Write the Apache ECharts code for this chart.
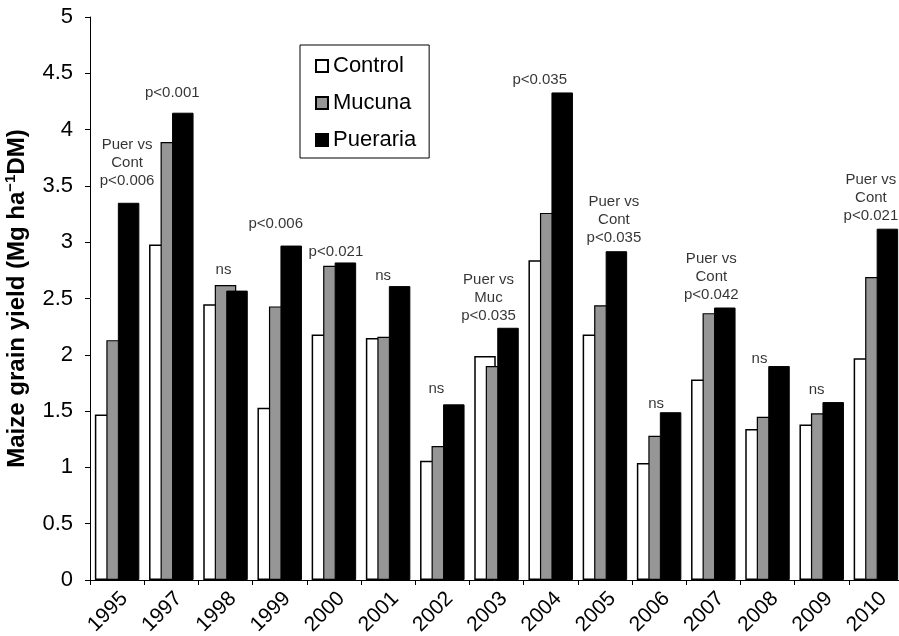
<!DOCTYPE html>
<html>
<head>
<meta charset="utf-8">
<title>Maize grain yield</title>
<script src="https://cdn.jsdelivr.net/npm/echarts@6/dist/echarts.min.js"></script>
<style>
  html, body { margin: 0; padding: 0; background: #fff; }
  #chart { width: 899px; height: 636px; }
</style>
</head>
<body>
<div id="chart"></div>
<script>
// Harvest years
const years = ['1995', '1997', '1998', '1999', '2000', '2001', '2002', '2003',
               '2004', '2005', '2006', '2007', '2008', '2009', '2010'];

// Maize grain yield (Mg ha-1 DM) per cover treatment
const control  = [1.47, 2.98, 2.45, 1.53, 2.18, 2.15, 1.06, 1.99, 2.84, 2.18, 1.04, 1.78, 1.34, 1.38, 1.97];
const mucuna   = [2.13, 3.89, 2.62, 2.43, 2.79, 2.16, 1.19, 1.90, 3.26, 2.44, 1.28, 2.37, 1.45, 1.48, 2.69];
const pueraria = [3.35, 4.15, 2.57, 2.97, 2.82, 2.61, 1.56, 2.24, 4.33, 2.92, 1.49, 2.42, 1.90, 1.58, 3.12];

// Significance notes per year
const notes = [
  'Puer vs\nCont\np<0.006', 'p<0.001', 'ns', 'p<0.006', 'p<0.021', 'ns', 'ns',
  'Puer vs\nMuc\np<0.035', 'p<0.035', 'Puer vs\nCont\np<0.035', 'ns',
  'Puer vs\nCont\np<0.042', 'ns', 'ns', 'Puer vs\nCont\np<0.021'
];

// Placement of each note: height (axis units) of the text's bottom edge, and a sideways nudge in px
const noteBase  = [3.46, 4.24, 2.67, 3.08, 2.83, 2.62, 1.61, 2.26, 4.36, 2.95, 1.48, 2.45, 1.88, 1.60, 3.15];
const noteShift = [10, 1, -2, -4, 2, -5, -6, -8, -11, 9, -3, -2, -8, -5, -5];

const FONT = 'Arial, "Liberation Sans", Helvetica, sans-serif';

const chart = echarts.init(document.getElementById('chart'), null, { renderer: 'canvas' });

const barCommon = {
  type: 'bar',
  barWidth: 21.5,
  barGap: '-46.5%',
  silent: true
};

chart.setOption({
  animation: false,
  backgroundColor: '#fff',
  textStyle: { fontFamily: FONT },
  grid: { left: 90, top: 17, width: 813, height: 563, containLabel: false, outerBoundsMode: 'none' },
  legend: {
    data: ['Control', 'Mucuna', 'Pueraria'],
    orient: 'vertical',
    left: 300,
    top: 45,
    padding: [10, 13, 7, 15],
    itemGap: 15,
    itemWidth: 12,
    itemHeight: 12,
    icon: 'rect',
    borderColor: '#000',
    borderWidth: 1,
    textStyle: { fontSize: 22, lineHeight: 22, color: '#000', fontFamily: FONT }
  },
  xAxis: {
    type: 'category',
    data: years,
    axisLine: { lineStyle: { color: '#000', width: 1 } },
    axisTick: { show: true, alignWithLabel: false, length: 5, lineStyle: { color: '#000' } },
    axisLabel: { rotate: 45, interval: 0, fontSize: 21, color: '#000', margin: 8, verticalAlign: 'top', fontFamily: FONT },
    splitLine: { show: false }
  },
  yAxis: {
    type: 'value',
    min: 0,
    max: 5,
    interval: 0.5,
    name: 'Maize grain yield (Mg ha{s|−1}DM)',
    nameLocation: 'middle',
    nameGap: 56,
    nameTextStyle: {
      fontSize: 24,
      fontWeight: 'bold',
      color: '#000',
      fontFamily: FONT,
      lineHeight: 28,
      rich: {
        s: { fontSize: 15, fontWeight: 'bold', color: '#000', fontFamily: FONT, verticalAlign: 'top', lineHeight: 15 }
      }
    },
    axisLine: { show: true, lineStyle: { color: '#000', width: 1 } },
    axisTick: { show: true, length: 5, lineStyle: { color: '#000' } },
    axisLabel: { fontSize: 22, color: '#000', margin: 17, fontFamily: FONT },
    splitLine: { show: false }
  },
  series: [
    Object.assign({}, barCommon, {
      name: 'Control',
      data: control,
      itemStyle: { color: '#ffffff', borderColor: '#000', borderWidth: 1.5 }
    }),
    Object.assign({}, barCommon, {
      name: 'Mucuna',
      data: mucuna,
      itemStyle: { color: '#969696', borderColor: '#000', borderWidth: 1.2 }
    }),
    Object.assign({}, barCommon, {
      name: 'Pueraria',
      data: pueraria,
      itemStyle: { color: '#000000', borderColor: '#000', borderWidth: 1 }
    }),
    {
      name: 'notes',
      type: 'scatter',
      silent: true,
      symbol: 'circle',
      symbolSize: 1,
      itemStyle: { color: 'rgba(0,0,0,0)' },
      z: 5,
      data: notes.map((t, i) => ({
        value: [i, noteBase[i]],
        label: { offset: [noteShift[i], 0] }
      })),
      label: {
        show: true,
        position: 'top',
        distance: 0,
        align: 'center',
        fontSize: 15,
        lineHeight: 18,
        color: '#000',
        fontFamily: FONT,
        formatter: p => notes[p.dataIndex]
      }
    }
  ]
});
</script>
</body>
</html>
